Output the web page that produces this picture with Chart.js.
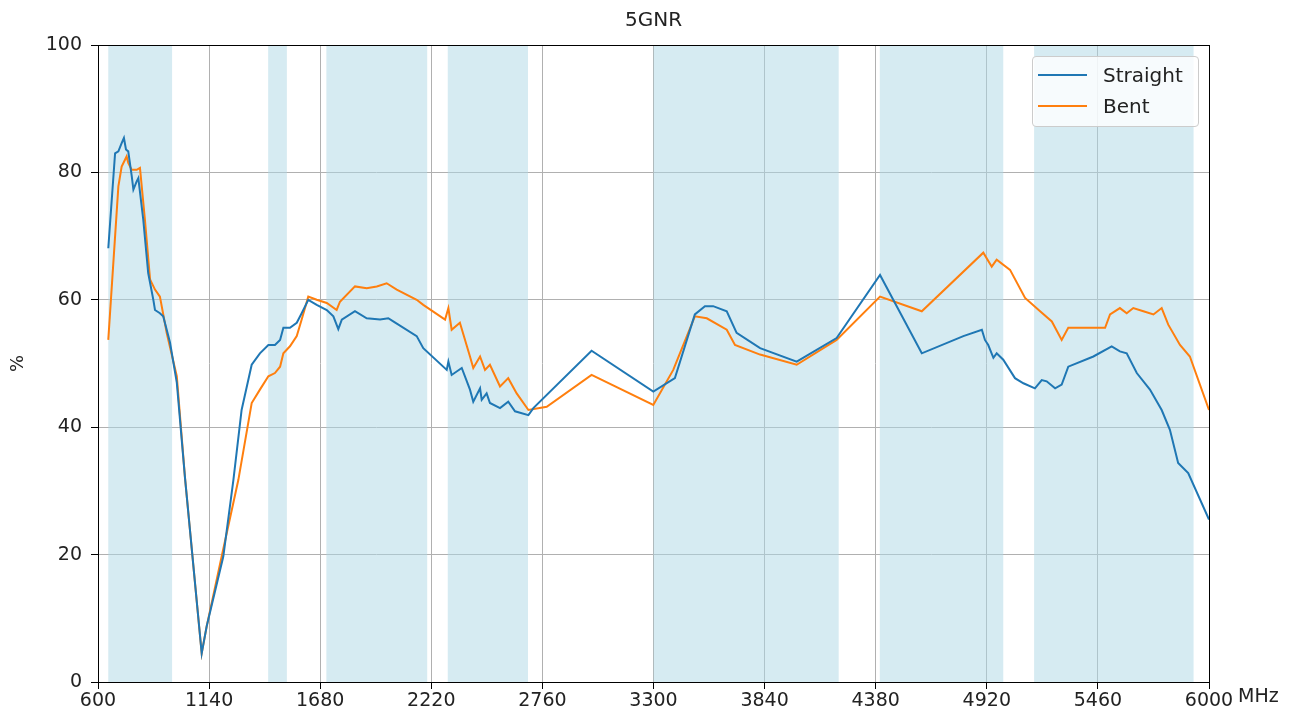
<!DOCTYPE html>
<html>
<head>
<meta charset="utf-8">
<script src="https://cdn.jsdelivr.net/npm/chart.js@4"></script>
<style>
  html, body { margin: 0; padding: 0; background: #fff; }
  #wrap { position: relative; width: 1303px; height: 722px; font-family: "DejaVu Sans", sans-serif; }
  #legend {
    position: absolute; left: 1032px; top: 56px; width: 167px; height: 71px;
    background: rgba(255,255,255,0.8); border: 1px solid #cccccc; border-radius: 4px;
    box-sizing: border-box; font-size: 20px; color: #222;
  }
  .item { position: absolute; left: 5px; height: 24px; line-height: 24px; }
  .item i { position: absolute; left: 0; top: 11px; width: 49px; height: 2px; }
  .item span { position: absolute; left: 65px; white-space: nowrap; }
  #mhz { position: absolute; left: 1238px; top: 684px; font-size: 19px; color: #222; }
</style>
</head>
<body>
<div id="wrap">
  <canvas id="chart" width="1303" height="722"></canvas>
  <div id="legend">
    <div class="item" style="top:6px"><i style="background:#1f77b4"></i><span>Straight</span></div>
    <div class="item" style="top:37px"><i style="background:#ff7f0e"></i><span>Bent</span></div>
  </div>
  <div id="mhz">MHz</div>
</div>
<script>
const xTicks = [600, 1140, 1680, 2220, 2760, 3300, 3840, 4380, 4920, 5460, 6000];

// shaded frequency bands (MHz)
const bandStart = [650, 1427, 1710, 2300, 3300, 4400, 5150];
const bandEnd = [960, 1518, 2200, 2690, 4200, 5000, 5925];

const straightFreq = [650, 683, 699, 715, 726, 736, 747, 764, 772, 788, 796, 820, 844, 869, 877, 901, 917, 950, 983, 1023,
  1104, 1128, 1209, 1258, 1298, 1347, 1387, 1428, 1460, 1485, 1501, 1533, 1566, 1590, 1622, 1663, 1712, 1744, 1768, 1785,
  1849, 1906, 1971, 2011, 2035, 2149, 2181, 2295, 2303, 2319, 2368, 2408, 2424, 2457, 2465, 2489, 2505, 2554, 2594, 2627,
  2692, 2716, 2999, 3299, 3404, 3501, 3550, 3590, 3656, 3704, 3818, 3996, 4190, 4401, 4604, 4806, 4896, 4911, 4927, 4952,
  4968, 5000, 5057, 5098, 5154, 5187, 5211, 5252, 5284, 5316, 5438, 5527, 5567, 5600, 5649, 5713, 5770, 5810, 5850, 5899, 6000];
const straightPct = [68.1, 83, 83.3, 84.6, 85.4, 83.6, 83.3, 79.4, 77.3, 78.6, 79.1, 72.6, 64.2, 60, 58.4, 57.9, 57.4, 53.3, 47, 32,
  4.5, 8.7, 19.7, 31.7, 42.7, 49.8, 51.6, 52.9, 52.9, 53.7, 55.6, 55.6, 56.4, 57.9, 60, 59.2, 58.4, 57.4, 55.4, 56.9,
  58.2, 57.1, 56.9, 57.1, 56.6, 54.3, 52.4, 49, 50.3, 48.2, 49.3, 45.9, 44, 46.1, 44.3, 45.3, 43.8, 43, 44, 42.5,
  41.9, 43, 52, 45.6, 47.7, 57.7, 59, 59, 58.2, 54.8, 52.4, 50.3, 54, 63.9, 51.6, 54.3, 55.3, 53.7, 52.9, 50.9,
  51.6, 50.6, 47.7, 46.9, 46.1, 47.4, 47.2, 46.1, 46.7, 49.5, 51.1, 52.7, 51.9, 51.6, 48.5, 45.9, 42.7, 39.6, 34.4, 32.8, 25.5];

const bentFreq = [650, 699, 715, 739, 747, 764, 788, 804, 828, 853, 877, 901, 934, 983, 1023, 1104, 1128, 1201, 1282,
  1347, 1387, 1428, 1460, 1485, 1501, 1533, 1566, 1590, 1622, 1663, 1712, 1760, 1776, 1849, 1906, 1955, 2003, 2052, 2149,
  2181, 2287, 2303, 2319, 2359, 2408, 2424, 2457, 2481, 2505, 2554, 2594, 2635, 2692, 2781, 2999, 3299, 3396, 3501, 3559,
  3656, 3696, 3818, 3996, 4190, 4401, 4604, 4903, 4944, 4968, 5033, 5106, 5179, 5236, 5284, 5316, 5495, 5519, 5567, 5600,
  5632, 5681, 5730, 5770, 5802, 5859, 5907, 6000];
const bentPct = [53.7, 77.8, 80.9, 82.5, 81.5, 80.4, 80.4, 80.7, 72.6, 63.2, 61.6, 60.5, 54.8, 48, 32, 4.5, 8.7, 19.7, 31.7,
  43.8, 45.9, 48, 48.5, 49.5, 51.6, 52.7, 54.3, 56.9, 60.5, 60, 59.5, 58.4, 59.7, 62.1, 61.8, 62.1, 62.6, 61.6, 60,
  59.2, 56.9, 58.7, 55.3, 56.4, 51.1, 49.3, 51.1, 49, 49.8, 46.4, 47.7, 45.3, 42.7, 43.2, 48.2, 43.5, 49, 57.4, 57.1,
  55.3, 52.9, 51.4, 49.8, 53.7, 60.5, 58.2, 67.4, 65.2, 66.3, 64.7, 60.3, 58.2, 56.6, 53.7, 55.6, 55.6, 57.7, 58.7, 57.9,
  58.7, 58.2, 57.7, 58.7, 56.1, 52.9, 51.1, 42.7];

const toPoints = (xs, ys) => xs.map((x, i) => ({x: x, y: ys[i]}));

const bandsPlugin = {
  id: `bands`,
  beforeDatasetsDraw(chart) {
    const {ctx, chartArea, scales} = chart;
    ctx.save();
    ctx.fillStyle = `rgba(173, 216, 230, 0.5)`;
    bandStart.forEach((start, i) => {
      const x0 = scales.x.getPixelForValue(start);
      const x1 = scales.x.getPixelForValue(bandEnd[i]);
      ctx.fillRect(x0, chartArea.top, x1 - x0, chartArea.bottom - chartArea.top);
    });
    ctx.restore();
  },
  afterDraw(chart) {
    const {ctx, chartArea} = chart;
    ctx.save();
    ctx.strokeStyle = `#000`;
    ctx.lineWidth = 1;
    ctx.strokeRect(Math.round(chartArea.left) + 0.5, Math.round(chartArea.top) + 0.5,
      Math.round(chartArea.right - chartArea.left), Math.round(chartArea.bottom - chartArea.top));
    ctx.restore();
  }
};

Chart.defaults.font.family = `"DejaVu Sans", sans-serif`;
Chart.defaults.color = `#222`;

new Chart(document.getElementById(`chart`), {
  type: `line`,
  plugins: [bandsPlugin],
  data: {
    datasets: [{
      label: `Straight`,
      data: toPoints(straightFreq, straightPct),
      borderColor: `#1f77b4`,
      borderWidth: 2,
      pointRadius: 0,
      tension: 0
    }, {
      label: `Bent`,
      data: toPoints(bentFreq, bentPct),
      borderColor: `#ff7f0e`,
      borderWidth: 2,
      pointRadius: 0,
      tension: 0
    }]
  },
  options: {
    responsive: false,
    animation: false,
    layout: {
      padding: {left: 0, right: 94, top: 0, bottom: 0}
    },
    plugins: {
      legend: {display: false},
      tooltip: {enabled: false},
      title: {
        display: true,
        fullSize: false,
        text: `5GNR`,
        font: {size: 20, weight: `normal`},
        color: `#222`,
        padding: {top: 9, bottom: 12}
      }
    },
    scales: {
      x: {
        type: `linear`,
        min: 600,
        max: 6000,
        afterBuildTicks: (scale) => {
          scale.ticks = xTicks.map((v) => ({value: v}));
        },
        afterFit: (scale) => {
          scale.height = 40;
        },
        ticks: {
          font: {size: 19},
          padding: 1,
          maxRotation: 0,
          autoSkip: false,
          callback: (value) => String(value)
        },
        grid: {
          color: `#b0b0b0`,
          tickColor: `#000`,
          tickLength: 7
        },
        border: {color: `#000`, width: 1}
      },
      y: {
        min: 0,
        max: 100,
        afterFit: (scale) => {
          scale.width = 98;
        },
        ticks: {
          stepSize: 20,
          font: {size: 19},
          padding: 9
        },
        grid: {
          color: `#b0b0b0`,
          tickColor: `#000`,
          tickLength: 7
        },
        border: {color: `#000`, width: 1},
        title: {
          display: true,
          text: `%`,
          font: {size: 18},
          padding: {top: 8, bottom: 0}
        }
      }
    }
  }
});
</script>
</body>
</html>
